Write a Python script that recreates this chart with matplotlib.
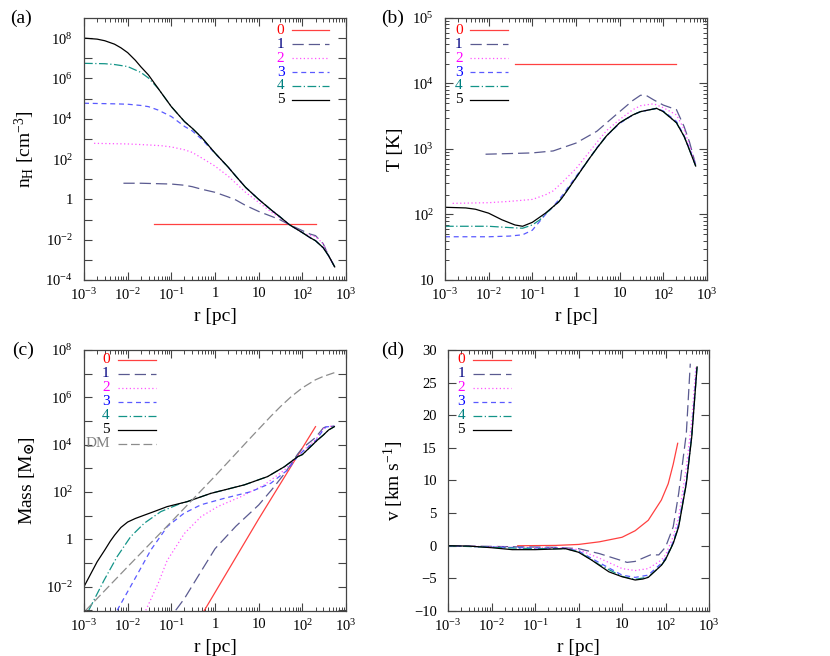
import numpy as np
import matplotlib
matplotlib.use("Agg")
import matplotlib.pyplot as plt
from matplotlib.ticker import LogLocator, FuncFormatter, FixedLocator, MultipleLocator, NullFormatter

plt.rcParams['font.family'] = ['Liberation Serif', 'DejaVu Serif']
plt.rcParams['mathtext.fontset'] = 'custom'
plt.rcParams['mathtext.rm'] = 'Liberation Serif'
plt.rcParams['mathtext.it'] = 'Liberation Serif:italic'
plt.rcParams['mathtext.default'] = 'regular'

# ---- (a) number density, log10 values
r_a0 = [0.04, 200]
lg_nH0 = [-1.24, -1.24]
r_a1 = [8e-3, 2e-2, 0.1, 0.2, 0.3, 0.5, 1, 2, 3, 5, 10, 20, 30, 50, 100, 150, 200, 300, 400, 550]
lg_nH1 = [0.8, 0.8, 0.76, 0.7, 0.63, 0.5, 0.35, 0.12, -0.03, -0.3, -0.6, -0.85, -1.0, -1.25, -1.55, -1.72, -1.8, -2.2, -2.8, -3.35]
r_a2 = [1.7e-3, 1e-2, 3e-2, 0.06, 0.1, 0.2, 0.3, 0.5, 1, 2, 3, 5, 10, 20, 30, 50, 100, 150, 200, 300, 400, 550]
lg_nH2 = [2.78, 2.75, 2.7, 2.66, 2.6, 2.46, 2.33, 2.05, 1.65, 1.15, 0.8, 0.35, -0.15, -0.65, -0.9, -1.25, -1.65, -1.8, -1.85, -2.2, -2.8, -3.35]
r_a3 = [1e-3, 5e-3, 1e-2, 2e-2, 3e-2, 5e-2, 0.1, 0.2, 0.3, 0.5, 1, 2, 3, 5, 10, 20, 30, 50, 100, 150, 200, 300, 400, 550]
lg_nH3 = [4.77, 4.74, 4.72, 4.66, 4.6, 4.43, 4.11, 3.62, 3.4, 2.98, 2.28, 1.6, 1.15, 0.6, 0.0, -0.55, -0.85, -1.25, -1.65, -1.9, -2.05, -2.4, -2.8, -3.35]
r_a4 = [1e-3, 3e-3, 5e-3, 1e-2, 2e-2, 3e-2, 5e-2, 0.1, 0.2, 0.3, 0.5, 1, 2, 3, 5, 10, 20, 30, 50, 100, 150, 200, 300, 400, 550]
lg_nH4 = [6.75, 6.73, 6.69, 6.59, 6.3, 6.02, 5.5, 4.6, 3.86, 3.53, 3.06, 2.3, 1.6, 1.15, 0.6, 0.0, -0.55, -0.85, -1.25, -1.65, -1.9, -2.05, -2.4, -2.8, -3.35]
r_a5 = [1e-3, 2e-3, 3e-3, 5e-3, 7e-3, 1e-2, 1.5e-2, 2e-2, 3e-2, 5e-2, 0.1, 0.2, 0.3, 0.5, 1, 2, 3, 5, 10, 20, 30, 50, 100, 150, 200, 300, 400, 550]
lg_nH5 = [8.0, 7.95, 7.87, 7.7, 7.52, 7.28, 6.9, 6.58, 6.17, 5.5, 4.6, 3.86, 3.53, 3.06, 2.3, 1.6, 1.15, 0.6, 0.0, -0.55, -0.85, -1.25, -1.65, -1.9, -2.05, -2.4, -2.8, -3.35]

# ---- (b) temperature
r_b0 = [0.04, 200]
lg_T0 = [4.3, 4.3]
r_b1 = [8.5e-3, 3e-2, 0.1, 0.3, 1, 3, 10, 20, 30, 40, 60, 100, 200, 300, 400, 550]
lg_T1 = [2.92, 2.93, 2.94, 2.97, 3.09, 3.27, 3.57, 3.74, 3.82, 3.82, 3.75, 3.67, 3.6, 3.34, 3.1, 2.76]
r_b2 = [1.5e-3, 1e-2, 3e-2, 0.1, 0.2, 0.3, 0.5, 1, 2, 3, 5, 10, 20, 30, 60, 100, 200, 300, 400, 550]
lg_T2 = [2.17, 2.18, 2.2, 2.23, 2.3, 2.36, 2.5, 2.7, 2.95, 3.1, 3.28, 3.45, 3.6, 3.66, 3.69, 3.63, 3.52, 3.3, 3.05, 2.76]
r_b3 = [1e-3, 1e-2, 3e-2, 6e-2, 0.1, 0.15, 0.2, 0.3, 0.5, 1, 2, 3, 5, 10, 20, 30, 70, 100, 200, 300, 400, 550]
lg_T3 = [1.66, 1.66, 1.67, 1.69, 1.76, 1.9, 2.0, 2.12, 2.3, 2.58, 2.85, 3.02, 3.2, 3.39, 3.52, 3.57, 3.62, 3.58, 3.42, 3.2, 3.0, 2.75]
r_b4 = [1e-3, 1e-2, 3e-2, 6e-2, 0.1, 0.15, 0.2, 0.4, 0.5, 1, 2, 3, 5, 10, 20, 30, 70, 100, 200, 300, 400, 550]
lg_T4 = [1.82, 1.82, 1.8, 1.79, 1.84, 1.92, 2.01, 2.19, 2.27, 2.56, 2.85, 3.01, 3.2, 3.4, 3.52, 3.57, 3.62, 3.57, 3.4, 3.19, 2.98, 2.74]
r_b5 = [1e-3, 3e-3, 5e-3, 1e-2, 2e-2, 4e-2, 6e-2, 0.1, 0.2, 0.4, 0.5, 1, 2, 3, 5, 10, 20, 30, 70, 100, 200, 300, 400, 550]
lg_T5 = [2.11, 2.1, 2.08, 2.02, 1.92, 1.84, 1.82, 1.88, 2.02, 2.19, 2.27, 2.56, 2.85, 3.01, 3.2, 3.4, 3.52, 3.57, 3.62, 3.57, 3.4, 3.19, 2.98, 2.74]

# ---- (c) enclosed mass
r_c0 = [0.56, 10, 200]
lg_M0 = [-3.03, 0.86, 4.76]
r_c1 = [0.126, 0.2, 0.5, 1, 3, 10, 20, 40, 78, 100, 200, 300, 350, 540]
lg_M1 = [-3.0, -2.5, -1.3, -0.4, 0.55, 1.45, 2.1, 2.8, 3.6, 3.85, 4.3, 4.7, 4.76, 4.78]
r_c2 = [2.6e-2, 5e-2, 8e-2, 0.2, 0.48, 1.15, 3.9, 13.5, 39, 66, 100, 200, 300, 350, 540]
lg_M2 = [-3.0, -1.86, -0.9, 0.25, 0.96, 1.38, 1.8, 2.3, 2.93, 3.35, 3.72, 4.2, 4.66, 4.76, 4.78]
r_c3 = [5.75e-3, 1.41e-2, 3.4e-2, 8.1e-2, 0.195, 0.48, 1.62, 6.6, 19, 46, 78, 100, 200, 300, 350, 540]
lg_M3 = [-3.0, -1.72, -0.45, 0.54, 1.1, 1.46, 1.73, 2.01, 2.37, 2.93, 3.5, 3.7, 4.15, 4.62, 4.75, 4.78]
r_c4 = [1.29e-3, 2.9e-3, 5.75e-3, 1.17e-2, 2.4e-2, 5.75e-2, 0.166, 0.23, 0.8, 4.7, 16, 39, 78, 100, 224, 300, 400, 540]
lg_M4 = [-2.99, -1.72, -0.73, 0.11, 0.68, 1.17, 1.52, 1.59, 1.94, 2.3, 2.65, 3.07, 3.49, 3.58, 4.2, 4.4, 4.62, 4.76]
r_c5 = [1e-3, 2e-3, 3e-3, 4e-3, 5e-3, 7e-3, 1e-2, 1.5e-2, 2.4e-2, 4e-2, 8e-2, 0.23, 0.8, 4.7, 16, 39, 78, 100, 224, 300, 400, 540]
lg_M5 = [-2.0, -0.95, -0.45, -0.08, 0.17, 0.5, 0.73, 0.88, 1.02, 1.17, 1.38, 1.59, 1.94, 2.3, 2.65, 3.07, 3.49, 3.58, 4.2, 4.4, 4.62, 4.76]
r_dm = [1.1e-3, 1e-2, 0.1, 1, 6.6, 19, 32, 55, 100, 200, 300, 540]
lg_Mdm = [-3.0, -1.16, 0.74, 2.67, 4.3, 5.2, 5.62, 6.02, 6.4, 6.74, 6.88, 7.04]

# ---- (d) velocity [km/s]
r_d0 = [0.04, 0.3, 1, 3, 10, 20, 40, 80, 115, 150, 190]
v0 = [0.0, 0.05, 0.2, 0.6, 1.3, 2.3, 3.9, 7.0, 9.5, 12.5, 15.7]
r_d1 = [1e-3, 1e-2, 0.1, 0.3, 1, 3, 10, 13, 20, 30, 45, 70, 100, 150, 200, 300, 370]
v1 = [0.0, -0.1, -0.2, -0.25, -0.45, -1.2, -2.3, -2.55, -2.4, -1.9, -1.4, -1.4, -0.2, 2.9, 8.0, 17.2, 27.9]
r_d2 = [1e-3, 1e-2, 0.1, 0.5, 1, 3, 10, 20, 40, 80, 100, 150, 200, 300, 400, 500]
v2 = [0.0, -0.15, -0.3, -0.35, -0.6, -1.9, -3.5, -3.8, -3.5, -2.2, -1.4, 1.4, 4.4, 12.0, 19.2, 27.6]
r_d3 = [1e-3, 1e-2, 0.1, 0.5, 1, 3, 10, 20, 40, 80, 100, 150, 200, 300, 400, 520]
v3 = [0.0, -0.2, -0.35, -0.4, -0.8, -2.6, -4.5, -4.85, -4.5, -2.7, -1.9, 0.6, 3.4, 10.0, 17.2, 27.4]
r_d4 = [1e-3, 1e-2, 0.1, 0.5, 1, 3, 10, 20, 40, 80, 100, 150, 200, 300, 400, 530]
v4 = [0.0, -0.25, -0.45, -0.45, -0.9, -2.9, -4.7, -5.15, -4.8, -3.0, -2.1, 0.4, 3.0, 9.6, 16.8, 27.4]
r_d5 = [1e-3, 3e-3, 1e-2, 3e-2, 0.1, 0.3, 0.5, 1, 2, 3, 5, 10, 20, 30, 40, 80, 100, 150, 200, 300, 400, 530]
v5 = [0.0, -0.05, -0.3, -0.6, -0.6, -0.5, -0.45, -1.0, -2.2, -3.0, -4.0, -4.75, -5.25, -5.1, -4.85, -3.0, -2.1, 0.36, 2.9, 9.5, 16.7, 27.4]

labels = ['0', '1', '2', '3', '4', '5', 'DM']
line_colors = ['#ff4040', '#5a5a90', '#ff55ff', '#5a5aff', '#139488', '#000000', '#8c8c8c']
text_colors = ['#ff0000', '#000080', '#ff00ff', '#0000ff', '#008080', '#000000', '#808080']
dashes = [None, (9, 4), (1, 2), (4, 3), (7, 2, 1, 2), None, (7, 3)]


def style(i):
    kw = dict(color=line_colors[i], lw=0.9)
    if dashes[i] is not None:
        kw['dashes'] = dashes[i]
    return kw


def log_fmt(v, pos):
    n = int(round(np.log10(v)))
    if n == 0:
        return '1'
    if n == 1:
        return '10'
    return '10$^{%d}$' % n


def setup(ax, ylog=True, ylab=None, yplain=None):
    ax.set_xscale('log')
    ax.set_xlim(1e-3, 1e3)
    ax.xaxis.set_major_locator(LogLocator(base=10, numticks=20))
    ax.xaxis.set_minor_locator(LogLocator(base=10, subs=np.arange(2, 10), numticks=20))
    ax.xaxis.set_major_formatter(FuncFormatter(log_fmt))
    ax.xaxis.set_minor_formatter(NullFormatter())
    ax.tick_params(which='both', direction='in', top=True, right=True, labelsize=10.5, color='#444444')
    ax.tick_params(which='major', length=6, width=0.8)
    ax.tick_params(which='minor', length=3, width=0.7)
    if ylog:
        ax.set_yscale('log')
        if ylab is None:
            ax.yaxis.set_major_locator(LogLocator(base=10, numticks=30))
            ax.yaxis.set_minor_locator(LogLocator(base=10, subs=np.arange(2, 10), numticks=30))
        else:
            # labelled every second decade, plain ticks on the others
            ax.yaxis.set_major_locator(FixedLocator([10.0 ** k for k in ylab]))
            ax.yaxis.set_minor_locator(FixedLocator([10.0 ** k for k in yplain]))
            ax.tick_params(axis='y', which='minor', length=6, width=0.8)
        ax.yaxis.set_major_formatter(FuncFormatter(log_fmt))
        ax.yaxis.set_minor_formatter(NullFormatter())
    ax.tick_params(axis='y', pad=8)
    ax.tick_params(axis='x', pad=5)
    for s in ax.spines.values():
        s.set_color('#444444')
        s.set_linewidth(0.9)
    ax.set_xlabel('r [pc]', fontsize=14, labelpad=4)


def key(ax, idx, xt, x0, x1, ytop, step):
    for k, i in enumerate(idx):
        y = ytop - k * step
        ax.text(xt, y, labels[i], color=text_colors[i], ha='right', va='center',
                fontsize=11, transform=ax.transAxes)
        ax.plot([x0, x1], [y, y], transform=ax.transAxes, clip_on=False, **style(i))


fig = plt.figure(figsize=(8.3, 6.56), dpi=100)
axa = fig.add_axes([0.1012, 0.5732, 0.3157, 0.3994])
axb = fig.add_axes([0.5361, 0.5732, 0.3157, 0.3994])
axc = fig.add_axes([0.1012, 0.0686, 0.3157, 0.3979])
axd = fig.add_axes([0.5398, 0.0686, 0.3145, 0.3979])

# (a)
for i, (r, y) in enumerate([(r_a0, lg_nH0), (r_a1, lg_nH1), (r_a2, lg_nH2),
                            (r_a3, lg_nH3), (r_a4, lg_nH4), (r_a5, lg_nH5)]):
    axa.plot(r, 10 ** np.array(y), **style(i))
setup(axa, ylab=[-4, -2, 0, 2, 4, 6, 8], yplain=[-3, -1, 1, 3, 5, 7])
axa.set_ylim(1e-4, 1e9)
axa.set_ylabel('n$_{H}$ [cm$^{-3}$]', fontsize=14, labelpad=6)
key(axa, range(6), 0.765, 0.794, 0.935, 0.954, 0.0534)

# (b)
for i, (r, y) in enumerate([(r_b0, lg_T0), (r_b1, lg_T1), (r_b2, lg_T2),
                            (r_b3, lg_T3), (r_b4, lg_T4), (r_b5, lg_T5)]):
    axb.plot(r, 10 ** np.array(y), **style(i))
setup(axb)
axb.set_ylim(10, 1e5)
axb.set_ylabel('T [K]', fontsize=14, labelpad=6)
key(axb, range(6), 0.068, 0.095, 0.24, 0.954, 0.0534)

# (c)
for i, (r, y) in enumerate([(r_c0, lg_M0), (r_c1, lg_M1), (r_c2, lg_M2),
                            (r_c3, lg_M3), (r_c4, lg_M4), (r_c5, lg_M5), (r_dm, lg_Mdm)]):
    axc.plot(r, 10 ** np.array(y), **style(i))
setup(axc, ylab=[-2, 0, 2, 4, 6, 8], yplain=[-3, -1, 1, 3, 5, 7])
axc.set_ylim(10 ** -3.03, 1e8)
axc.set_ylabel(r'Mass [M$_{\mathbf{\odot}}$]', fontsize=14, labelpad=6)
key(axc, range(7), 0.098, 0.13, 0.275, 0.962, 0.0536)

# (d)
for i, (r, y) in enumerate([(r_d0, v0), (r_d1, v1), (r_d2, v2),
                            (r_d3, v3), (r_d4, v4), (r_d5, v5)]):
    axd.plot(r, y, **style(i))
setup(axd, ylog=False)
axd.set_ylim(-10, 30)
axd.yaxis.set_major_locator(MultipleLocator(5))
axd.set_ylabel('v [km s$^{-1}$]', fontsize=14, labelpad=6)
key(axd, range(6), 0.065, 0.096, 0.241, 0.962, 0.0536)

for s, x, y in [('(a)', 10, 18), ('(b)', 381, 18), ('(c)', 12, 350), ('(d)', 381, 350)]:
    fig.text(x / 830, 1 - y / 656, s, fontsize=14, ha='left', va='center')

fig.savefig('out.png', dpi=100)
